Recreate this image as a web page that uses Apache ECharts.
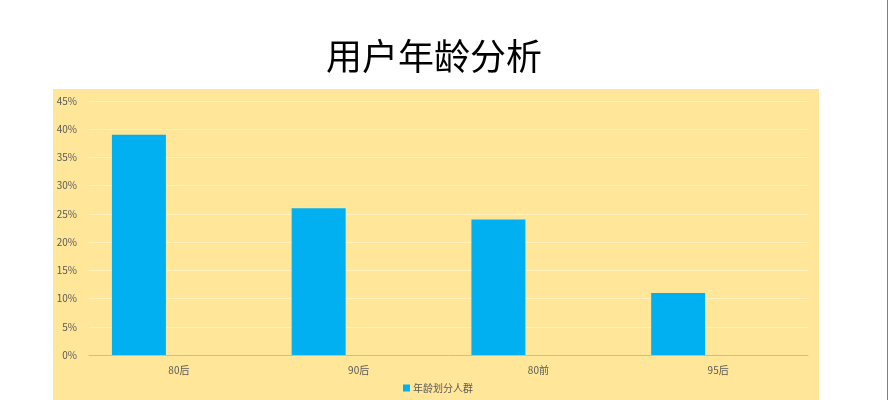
<!DOCTYPE html>
<html>
<head>
<meta charset="utf-8">
<script src="https://cdn.jsdelivr.net/npm/echarts@6/dist/echarts.min.js"></script>
<style>
    html, body { margin: 0; padding: 0; background: #fff; }
    #chart { width: 889px; height: 400px; }
</style>
</head>
<body>
<div id="chart"></div>
<script>
    var categories = ['80后', '90后', '80前', '95后'];
    var shareValues = [39, 26, 24, 11];
    var yTicks = [0, 5, 10, 15, 20, 25, 30, 35, 40, 45];

    var option = {
        backgroundColor: '#ffffff',
        textStyle: {fontFamily: '"Noto Sans CJK SC", sans-serif'},
        title: {
            text: '用户年龄分析',
            left: 321,
            top: 33,
            textStyle: {fontSize: 36, fontWeight: 'normal', color: '#000000'}
        },
        graphic: [
            {
                type: 'rect',
                z: -10,
                silent: true,
                shape: {x: 53, y: 89, width: 766, height: 320},
                style: {fill: '#FFE699'}
            },
            {
                type: 'line',
                silent: true,
                shape: {x1: 887.5, y1: 0, x2: 887.5, y2: 400},
                style: {stroke: '#7f7f7f', lineWidth: 1}
            }
        ],
        legend: {
            data: ['年龄划分人群'],
            bottom: 2,
            left: 398,
            itemWidth: 7,
            itemHeight: 7,
            itemGap: 4,
            icon: 'rect',
            textStyle: {fontSize: 10, color: '#595959', padding: [0, 0, 0, -2]}
        },
        grid: {left: 89, right: 81, top: 101, bottom: 45, containLabel: false},
        xAxis: [
            {
                type: 'category',
                data: categories,
                axisLine: {lineStyle: {color: '#C8B8C0'}},
                axisTick: {show: false},
                axisLabel: {fontSize: 10, color: '#595959', margin: 10}
            }
        ],
        yAxis: [
            {
                type: 'value',
                min: yTicks[0],
                max: yTicks[yTicks.length - 1],
                interval: 5,
                axisLine: {show: false},
                axisTick: {show: false},
                axisLabel: {
                    fontSize: 10,
                    color: '#595959',
                    margin: 12,
                    formatter: function (v) { return v + '%'; }
                },
                splitLine: {lineStyle: {color: '#FFF0BE', width: 1}}
            }
        ],
        series: [
            {
                name: '年龄划分人群',
                type: 'bar',
                data: shareValues,
                barWidth: 54,
                barGap: '48%',
                itemStyle: {color: '#00B0F0'}
            },
            {
                name: '占位',
                type: 'bar',
                data: [],
                barWidth: 54,
                itemStyle: {color: 'transparent'}
            }
        ]
    };

    var myChart = echarts.init(document.getElementById('chart'));
    myChart.setOption(option);
</script>
</body>
</html>
